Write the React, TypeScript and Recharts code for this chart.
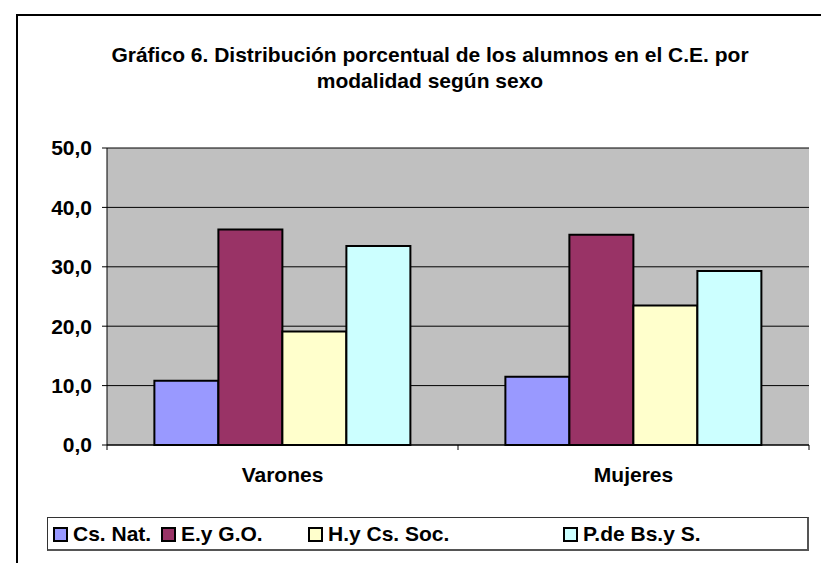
import React from 'react';
import { BarChart, Bar, XAxis, YAxis, CartesianGrid } from 'recharts';

const categories = ['Varones', 'Mujeres'];
const csNat = [10.8, 11.5];
const eyGO = [36.3, 35.4];
const hyCsSoc = [19.1, 23.5];
const pdeBs = [33.5, 29.3];
const yTicks = [0, 10, 20, 30, 40, 50];

const series = [
  { key: 'csNat', name: 'Cs. Nat.', color: '#9999FF', values: csNat, legendX: 53 },
  { key: 'eyGO', name: 'E.y G.O.', color: '#993366', values: eyGO, legendX: 161 },
  { key: 'hyCsSoc', name: 'H.y Cs. Soc.', color: '#FFFFCC', values: hyCsSoc, legendX: 308 },
  { key: 'pdeBs', name: 'P.de Bs.y S.', color: '#CCFFFF', values: pdeBs, legendX: 563 },
];

const data = categories.map((name, i) => {
  const row: Record<string, string | number> = { name };
  series.forEach((s) => { row[s.key] = s.values[i]; });
  return row;
});

const FONT = '"Liberation Sans", Arial, sans-serif';
const FS = 21;
const W = 821;
const H = 563;
const PLOT_LEFT = 107;
const PLOT_RIGHT = 12;
const BAND = (W - PLOT_LEFT - PLOT_RIGHT) / categories.length;

const XTick = (props: any) => {
  const { x, y, payload, index } = props;
  const half = BAND / 2;
  return (
    <g>
      <line x1={x - half} x2={x - half} y1={y} y2={y + 5} stroke="#000" />
      {index === categories.length - 1 && (
        <line x1={x + half} x2={x + half} y1={y} y2={y + 5} stroke="#000" />
      )}
      <text x={x} y={y + 37} textAnchor="middle" fontFamily={FONT} fontWeight="bold" fontSize={FS} fill="#000">
        {payload.value}
      </text>
    </g>
  );
};

const App: React.FC = () => {
  return (
    <div style={{ position: 'fixed', left: 0, top: 0, width: W, height: H, overflow: 'hidden', background: '#fff', fontFamily: FONT }}>
      <div style={{ position: 'absolute', left: 16, top: 14, width: W, height: H, borderLeft: '2px solid #000', borderTop: '2px solid #000' }} />
      <svg style={{ position: 'absolute', left: 0, top: 0 }} width={W} height={120}>
        <text x={430} y={62} textAnchor="middle" fontFamily={FONT} fontWeight="bold" fontSize={FS} fill="#000">
          Gráfico 6. Distribución porcentual de los alumnos en el C.E. por
        </text>
        <text x={430} y={88} textAnchor="middle" fontFamily={FONT} fontWeight="bold" fontSize={FS} fill="#000">
          modalidad según sexo
        </text>
      </svg>
      <div style={{ position: 'absolute', left: 0, top: 0 }}>
        <BarChart
          width={W}
          height={H}
          data={data}
          margin={{ top: 148, right: PLOT_RIGHT, left: 0, bottom: 0 }}
          barCategoryGap="13.5%"
          barGap={0}
        >
          <CartesianGrid fill="#C0C0C0" stroke="#000" vertical={false} />
          <XAxis
            dataKey="name"
            height={118}
            axisLine={{ stroke: '#000' }}
            tickLine={false}
            tickSize={0}
            tickMargin={0}
            tick={<XTick />}
            interval={0}
          />
          <XAxis xAxisId="top" dataKey="name" orientation="top" height={0} tick={false} tickLine={false} axisLine={{ stroke: '#808080', strokeWidth: 2 }} />
          <YAxis
            width={PLOT_LEFT}
            domain={[0, 50]}
            ticks={yTicks}
            tickFormatter={(v: number) => v.toFixed(1).replace('.', ',')}
            axisLine={{ stroke: '#000' }}
            tickLine={{ stroke: '#000' }}
            tickSize={5}
            tickMargin={10}
            tick={{ fontFamily: FONT, fontWeight: 'bold', fontSize: FS, fill: '#000' }}
          />
          <YAxis yAxisId="right" orientation="right" width={0} domain={[0, 50]} tick={false} tickLine={false} axisLine={{ stroke: '#808080', strokeWidth: 2 }} />
          {series.map((s) => (
            <Bar key={s.key} dataKey={s.key} name={s.name} fill={s.color} stroke="#000" strokeWidth={2} isAnimationActive={false} />
          ))}
        </BarChart>
      </div>
      <div style={{ position: 'absolute', left: 47, top: 517, width: 762, height: 34, boxSizing: 'border-box', borderTop: '1px solid #333', borderLeft: '1px solid #333', borderRight: '2px solid #555', borderBottom: '2px solid #555', background: '#fff' }}>
        {series.map((s) => (
          <div key={s.key} style={{ position: 'absolute', left: s.legendX - 48, top: 0, height: 32, display: 'flex', alignItems: 'center' }}>
            <span style={{ display: 'inline-block', width: 11, height: 11, border: '2px solid #000', background: s.color }} />
            <span style={{ marginLeft: 5, fontSize: FS, fontWeight: 'bold', color: '#000', whiteSpace: 'nowrap' }}>{s.name}</span>
          </div>
        ))}
      </div>
    </div>
  );
};

export default App;
